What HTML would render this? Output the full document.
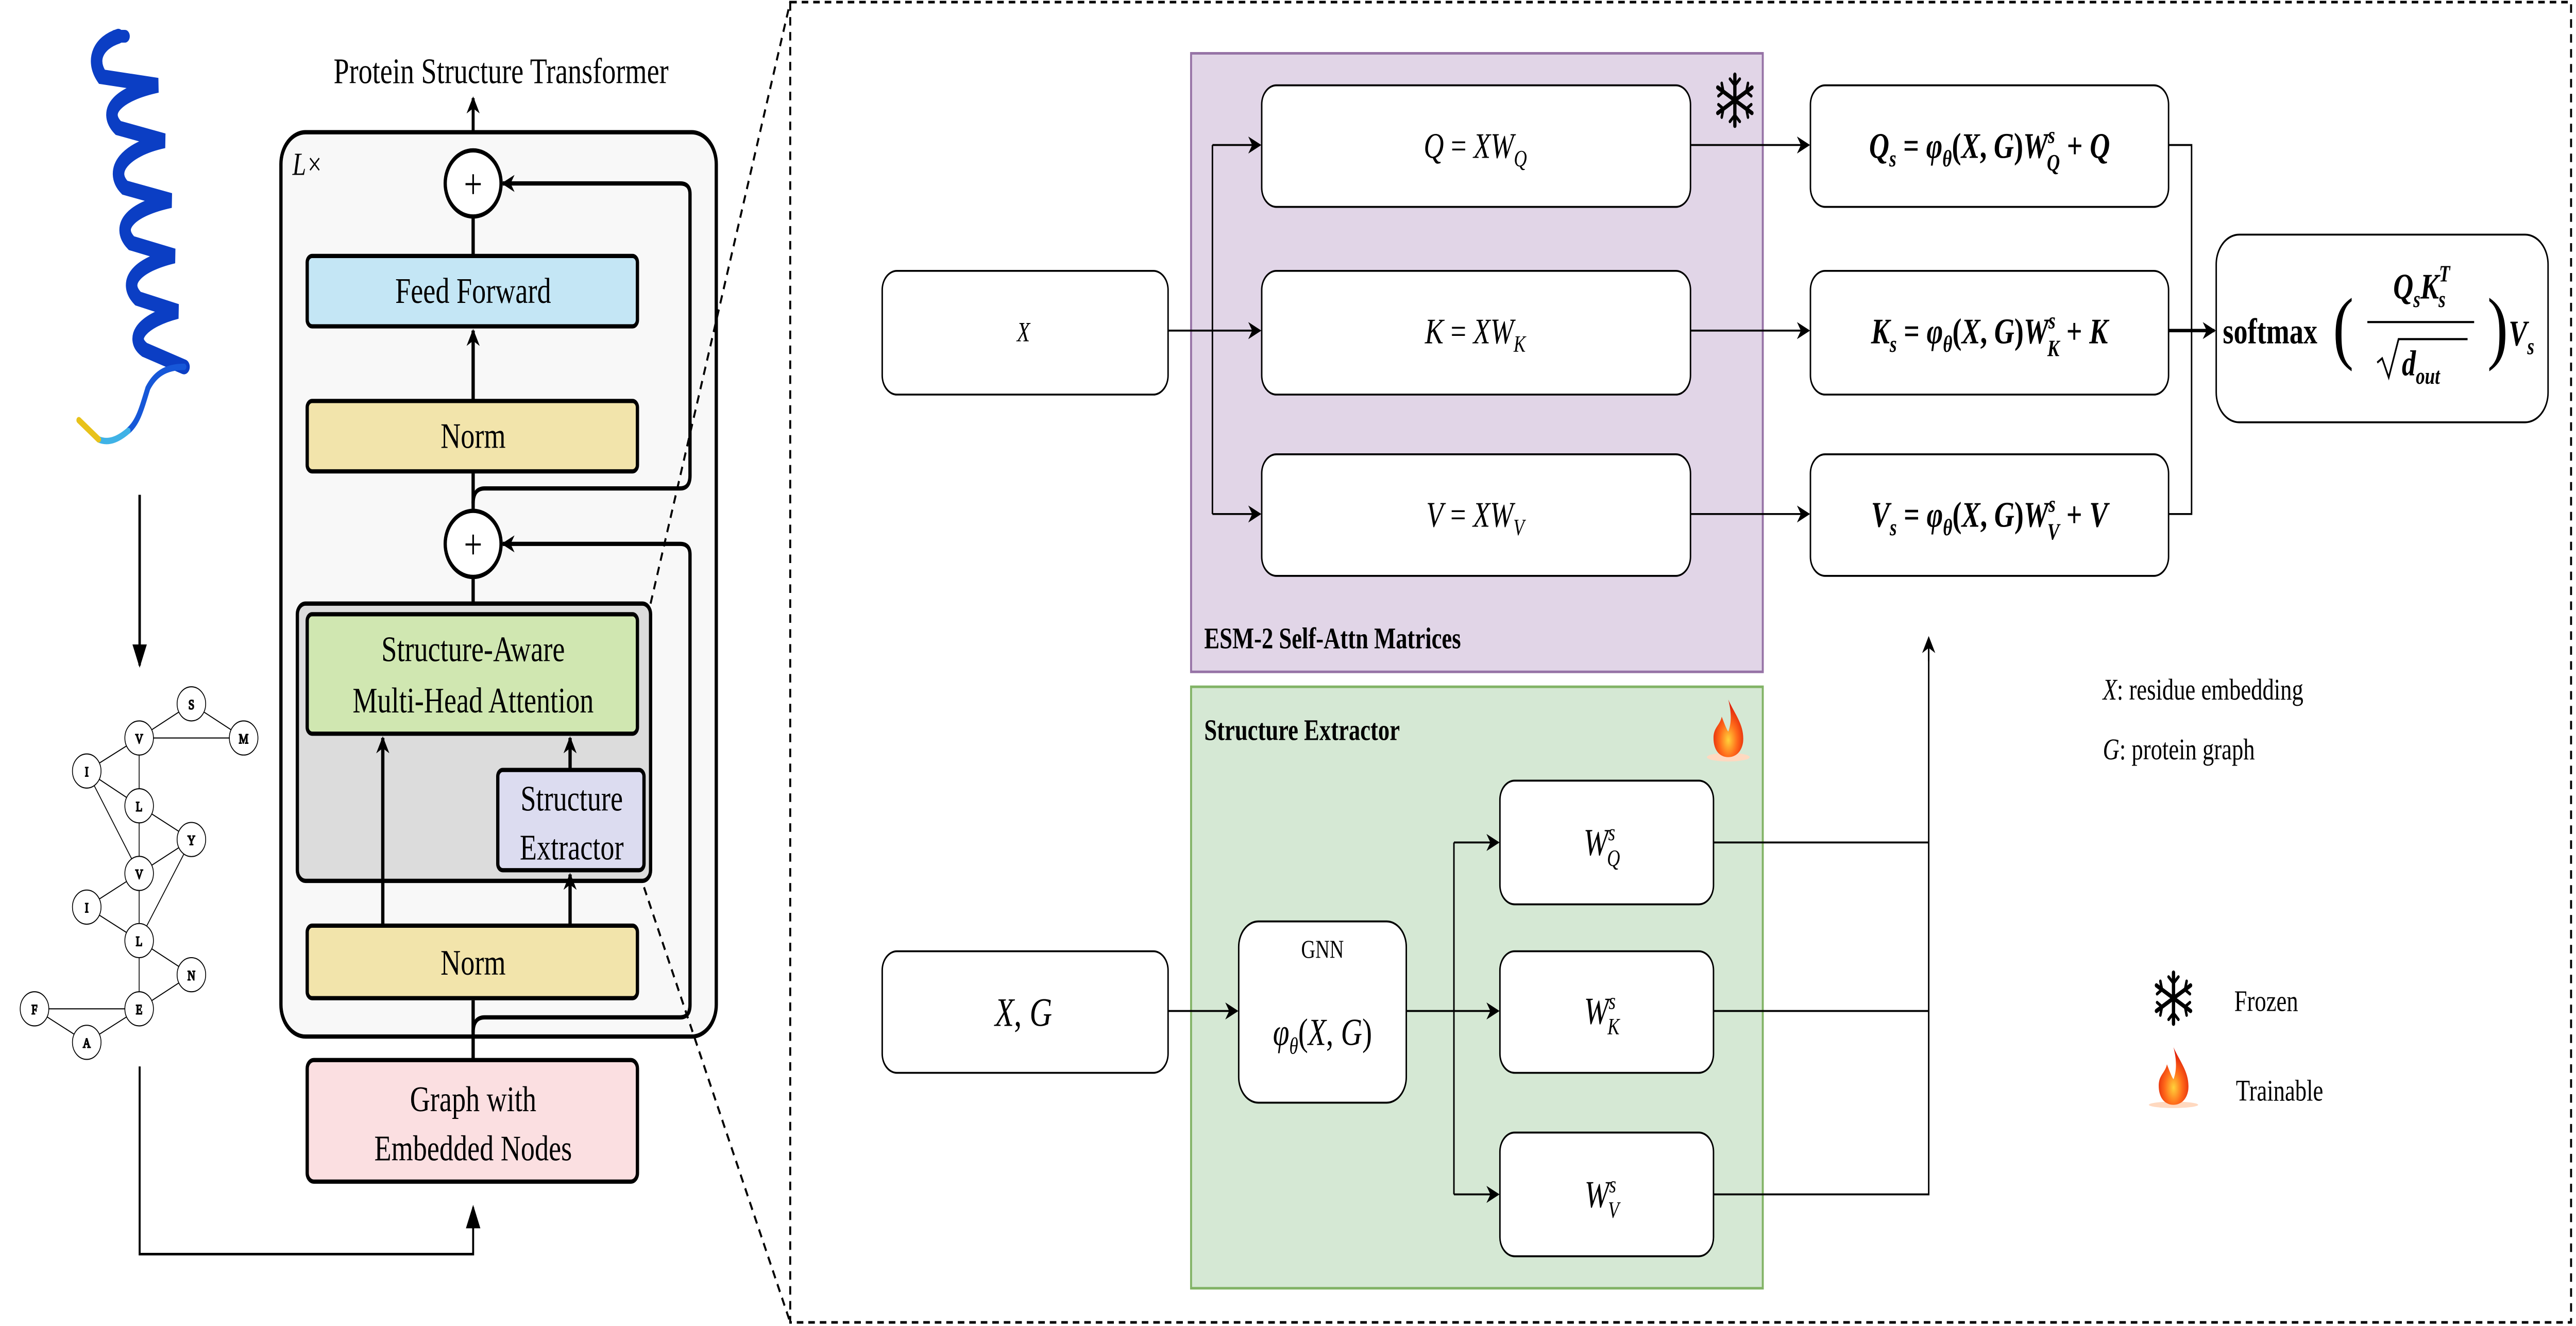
<!DOCTYPE html>
<html><head><meta charset="utf-8"><style>
html,body{margin:0;padding:0;background:#fff;width:100%;height:100%;overflow:hidden}
svg{display:block;width:100vw;height:100vh}
text{font-family:"Liberation Serif","DejaVu Serif",serif;fill:#000}
.m{font-style:italic}
</style></head><body>
<svg viewBox="0 0 1568 621.7" preserveAspectRatio="none" xmlns="http://www.w3.org/2000/svg">
<defs>
<marker id="a" viewBox="0 0 10 10" refX="9" refY="5" markerWidth="8" markerHeight="8" markerUnits="userSpaceOnUse" orient="auto"><path d="M0,0 L10,5 L0,10 L3,5 z" fill="#000"/></marker>
<marker id="b" viewBox="0 0 10 10" refX="9" refY="5" markerWidth="11" markerHeight="11" markerUnits="userSpaceOnUse" orient="auto"><path d="M0,1 L10,5 L0,9 z" fill="#000"/></marker>
<radialGradient id="fire" cx="50%" cy="70%" r="60%"><stop offset="0" stop-color="#ffd23a"/><stop offset="0.5" stop-color="#ff6a1a"/><stop offset="1" stop-color="#e0200a"/></radialGradient>
</defs>
<rect width="1568" height="621.7" fill="#fff"/>

<!-- helix -->
<g fill="none" stroke-linecap="round">
<path d="M72,17 C60,20 55,28 62,36 L96,40 C72,44 62,52 72,60 L100,66 C76,70 66,80 76,88 L104,94 C80,98 70,106 80,114 L106,120 C84,124 74,132 84,140 L108,146 C88,150 78,158 88,164 L112,172" stroke="#0b3ec4" stroke-width="7"/>
<path d="M76,17 L70,17" stroke="#0b3ec4" stroke-width="6"/>
<path d="M112,172 C100,172 94,176 90,182 C86,192 84,198 78,202" stroke="#1657d8" stroke-width="3"/>
<path d="M78,202 C72,206 66,208 60,206" stroke="#3fb2e6" stroke-width="3"/>
<path d="M60,206 L48,197" stroke="#e8c21a" stroke-width="3"/>
</g>
<line x1="85" y1="232" x2="85" y2="312" stroke="#000" stroke-width="1.5" marker-end="url(#b)"/>

<!-- graph -->
<g stroke="#000" stroke-width="0.5" fill="none">
<line x1="84.7" y1="346" x2="116.5" y2="330"/><line x1="116.5" y1="330" x2="148.3" y2="346"/><line x1="84.7" y1="346" x2="148.3" y2="346"/>
<line x1="52.8" y1="361.5" x2="84.7" y2="346"/><line x1="84.7" y1="346" x2="84.7" y2="377.8"/><line x1="52.8" y1="361.5" x2="84.7" y2="377.8"/>
<line x1="52.8" y1="361.5" x2="84.7" y2="409.5"/><line x1="84.7" y1="377.8" x2="116.5" y2="393.6"/><line x1="84.7" y1="377.8" x2="84.7" y2="409.5"/>
<line x1="116.5" y1="393.6" x2="84.7" y2="409.5"/><line x1="116.5" y1="393.6" x2="84.7" y2="441"/><line x1="84.7" y1="409.5" x2="52.8" y2="425.3"/>
<line x1="84.7" y1="409.5" x2="84.7" y2="441"/><line x1="52.8" y1="425.3" x2="84.7" y2="441"/><line x1="84.7" y1="441" x2="116.5" y2="457"/>
<line x1="84.7" y1="441" x2="84.7" y2="473"/><line x1="116.5" y1="457" x2="84.7" y2="473"/><line x1="21" y1="473" x2="84.7" y2="473"/>
<line x1="21" y1="473" x2="52.8" y2="488.7"/><line x1="52.8" y1="488.7" x2="84.7" y2="473"/>
</g>
<g stroke="#000" stroke-width="0.5" fill="#fff" font-size="6.5" text-anchor="middle">
<ellipse cx="116.5" cy="330" rx="8.7" ry="8"/><text x="116.5" y="332.5">S</text>
<ellipse cx="148.3" cy="346" rx="8.7" ry="8"/><text x="148.3" y="348.5">M</text>
<ellipse cx="84.7" cy="346" rx="8.7" ry="8"/><text x="84.7" y="348.5">V</text>
<ellipse cx="52.8" cy="361.5" rx="8.7" ry="8"/><text x="52.8" y="364">I</text>
<ellipse cx="84.7" cy="377.8" rx="8.7" ry="8"/><text x="84.7" y="380.3">L</text>
<ellipse cx="116.5" cy="393.6" rx="8.7" ry="8"/><text x="116.5" y="396.1">Y</text>
<ellipse cx="84.7" cy="409.5" rx="8.7" ry="8"/><text x="84.7" y="412">V</text>
<ellipse cx="52.8" cy="425.3" rx="8.7" ry="8"/><text x="52.8" y="427.8">I</text>
<ellipse cx="84.7" cy="441" rx="8.7" ry="8"/><text x="84.7" y="443.5">L</text>
<ellipse cx="116.5" cy="457" rx="8.7" ry="8"/><text x="116.5" y="459.5">N</text>
<ellipse cx="21" cy="473" rx="8.7" ry="8"/><text x="21" y="475.5">F</text>
<ellipse cx="84.7" cy="473" rx="8.7" ry="8"/><text x="84.7" y="475.5">E</text>
<ellipse cx="52.8" cy="488.7" rx="8.7" ry="8"/><text x="52.8" y="491.2">A</text>
</g>
<path d="M85,500 L85,588 L288,588 L288,566" fill="none" stroke="#000" stroke-width="1.2" marker-end="url(#b)"/>

<!-- transformer -->
<text x="305" y="39" font-size="17" text-anchor="middle">Protein Structure Transformer</text>
<line x1="288" y1="71" x2="288" y2="46" stroke="#000" stroke-width="1.8" marker-end="url(#a)"/>
<rect x="171" y="62" width="265" height="424" rx="15" fill="#f8f8f8" stroke="#000" stroke-width="2"/>
<text x="178" y="82" font-size="15" class="m">L×</text>
<g stroke="#000" stroke-width="2" fill="none">
<line x1="288" y1="120" x2="288" y2="101"/>
<line x1="288" y1="188" x2="288" y2="155" marker-end="url(#a)"/>
<line x1="288" y1="240" x2="288" y2="221"/>
<line x1="288" y1="288" x2="288" y2="270"/>
<path d="M288,236 Q288,229 295,229 L414,229 Q420,229 420,223 L420,91 Q420,86 414,86 L306,86" marker-end="url(#a)"/>
<path d="M288,484 Q288,477 295,477 L414,477 Q420,477 420,471 L420,260 Q420,255 414,255 L306,255" marker-end="url(#a)"/>
</g>
<rect x="181" y="283" width="215" height="130" rx="5" fill="#dcdcdc" stroke="#000" stroke-width="2"/>
<g stroke="#000" stroke-width="2" fill="none">
<line x1="288" y1="497" x2="288" y2="469"/>
<line x1="233" y1="434" x2="233" y2="346" marker-end="url(#a)"/>
<line x1="347" y1="434" x2="347" y2="410" marker-end="url(#a)"/>
<line x1="347" y1="361" x2="347" y2="346" marker-end="url(#a)"/>
</g>
<ellipse cx="288" cy="86" rx="17" ry="15.5" fill="#fff" stroke="#000" stroke-width="2"/>
<text x="288" y="93" font-size="20" text-anchor="middle">+</text>
<ellipse cx="288" cy="255" rx="17" ry="15.5" fill="#fff" stroke="#000" stroke-width="2"/>
<text x="288" y="262" font-size="20" text-anchor="middle">+</text>
<rect x="187" y="120" width="201" height="33" rx="3" fill="#c4e6f5" stroke="#000" stroke-width="2"/>
<text x="288" y="142" font-size="17" text-anchor="middle">Feed Forward</text>
<rect x="187" y="188" width="201" height="33" rx="3" fill="#f2e4ab" stroke="#000" stroke-width="2"/>
<text x="288" y="210" font-size="17" text-anchor="middle">Norm</text>
<rect x="187" y="288" width="201" height="56" rx="3" fill="#d0e7b1" stroke="#000" stroke-width="2"/>
<text x="288" y="310" font-size="17" text-anchor="middle">Structure-Aware</text>
<text x="288" y="334" font-size="17" text-anchor="middle">Multi-Head Attention</text>
<rect x="303" y="361" width="89" height="47" rx="3" fill="#dcdcf0" stroke="#000" stroke-width="2"/>
<text x="348" y="380" font-size="17" text-anchor="middle">Structure</text>
<text x="348" y="403" font-size="17" text-anchor="middle">Extractor</text>
<rect x="187" y="434" width="201" height="34" rx="3" fill="#f2e4ab" stroke="#000" stroke-width="2"/>
<text x="288" y="457" font-size="17" text-anchor="middle">Norm</text>
<rect x="187" y="497" width="201" height="57" rx="4" fill="#fbdfe1" stroke="#000" stroke-width="2"/>
<text x="288" y="521" font-size="17" text-anchor="middle">Graph with</text>
<text x="288" y="544" font-size="17" text-anchor="middle">Embedded Nodes</text>

<!-- dashed -->
<g stroke="#000" stroke-width="1.2" fill="none" stroke-dasharray="4,3">
<line x1="396" y1="283" x2="481" y2="1"/>
<line x1="392" y1="416" x2="481" y2="620"/>
<rect x="481" y="1" width="1084" height="619"/>
</g>

<!-- purple -->
<rect x="725" y="25" width="348" height="290" fill="#e1d5e7" stroke="#9673a6" stroke-width="1.2"/>
<text x="733" y="304" font-size="14" font-weight="bold">ESM-2 Self-Attn Matrices</text>
<rect x="725" y="322" width="348" height="282" fill="#d5e8d4" stroke="#82b366" stroke-width="1.2"/>
<text x="733" y="347" font-size="14" font-weight="bold">Structure Extractor</text>

<g stroke="#000" stroke-width="0.9" fill="none">
<path d="M711,155 L738,155 M738,68 L738,241"/>
<line x1="738" y1="68" x2="767" y2="68" marker-end="url(#a)"/>
<line x1="738" y1="155" x2="767" y2="155" marker-end="url(#a)"/>
<line x1="738" y1="241" x2="767" y2="241" marker-end="url(#a)"/>
<line x1="1029" y1="68" x2="1101" y2="68" marker-end="url(#a)"/>
<line x1="1029" y1="155" x2="1101" y2="155" marker-end="url(#a)"/>
<line x1="1029" y1="241" x2="1101" y2="241" marker-end="url(#a)"/>
<path d="M1320,68 L1334,68 L1334,241 L1320,241"/>
<line x1="1320" y1="155" x2="1348" y2="155" stroke-width="1.6" marker-end="url(#a)"/>
<line x1="711" y1="474" x2="753" y2="474" marker-end="url(#a)"/>
<path d="M856,474 L885,474 M885,395 L885,560"/>
<line x1="885" y1="395" x2="912" y2="395" marker-end="url(#a)"/>
<line x1="885" y1="474" x2="912" y2="474" marker-end="url(#a)"/>
<line x1="885" y1="560" x2="912" y2="560" marker-end="url(#a)"/>
<path d="M1043,395 L1174,395 M1043,474 L1174,474 M1043,560 L1174,560 L1174,300"/>
<line x1="1174" y1="310" x2="1174" y2="299" marker-end="url(#a)"/>
</g>

<g fill="#fff" stroke="#000" stroke-width="0.9">
<rect x="537" y="127" width="174" height="58" rx="9"/>
<rect x="768" y="40" width="261" height="57" rx="9"/>
<rect x="768" y="127" width="261" height="58" rx="9"/>
<rect x="768" y="213" width="261" height="57" rx="9"/>
<rect x="1102" y="40" width="218" height="57" rx="9"/>
<rect x="1102" y="127" width="218" height="58" rx="9"/>
<rect x="1102" y="213" width="218" height="57" rx="9"/>
<rect x="1349" y="110" width="202" height="88" rx="14"/>
<rect x="537" y="446" width="174" height="57" rx="9"/>
<rect x="754" y="432" width="102" height="85" rx="12"/>
<rect x="913" y="366" width="130" height="58" rx="9"/>
<rect x="913" y="446" width="130" height="57" rx="9"/>
<rect x="913" y="531" width="130" height="58" rx="9"/>
</g>

<g font-size="17" text-anchor="middle">
<text x="623" y="160" font-size="13" class="m">X</text>
<text x="898" y="74"><tspan class="m">Q</tspan> = <tspan class="m">XW</tspan><tspan class="m" font-size="11" dy="4">Q</tspan></text>
<text x="898" y="161"><tspan class="m">K</tspan> = <tspan class="m">XW</tspan><tspan class="m" font-size="11" dy="4">K</tspan></text>
<text x="898" y="247"><tspan class="m">V</tspan> = <tspan class="m">XW</tspan><tspan class="m" font-size="11" dy="4">V</tspan></text>
<text x="1211" y="74" font-weight="bold"><tspan class="m">Q</tspan><tspan class="m" font-size="11" dy="4">s</tspan><tspan dy="-4"> = </tspan><tspan class="m">φ</tspan><tspan class="m" font-size="11" dy="4">θ</tspan><tspan dy="-4">(</tspan><tspan class="m">X</tspan>, <tspan class="m">G</tspan>)<tspan class="m">W</tspan><tspan class="m" font-size="11" dy="-7">s</tspan><tspan class="m" font-size="11" dx="-5" dy="13">Q</tspan><tspan dy="-6"> + </tspan><tspan class="m">Q</tspan></text>
<text x="1211" y="161" font-weight="bold"><tspan class="m">K</tspan><tspan class="m" font-size="11" dy="4">s</tspan><tspan dy="-4"> = </tspan><tspan class="m">φ</tspan><tspan class="m" font-size="11" dy="4">θ</tspan><tspan dy="-4">(</tspan><tspan class="m">X</tspan>, <tspan class="m">G</tspan>)<tspan class="m">W</tspan><tspan class="m" font-size="11" dy="-7">s</tspan><tspan class="m" font-size="11" dx="-5" dy="13">K</tspan><tspan dy="-6"> + </tspan><tspan class="m">K</tspan></text>
<text x="1211" y="247" font-weight="bold"><tspan class="m">V</tspan><tspan class="m" font-size="11" dy="4">s</tspan><tspan dy="-4"> = </tspan><tspan class="m">φ</tspan><tspan class="m" font-size="11" dy="4">θ</tspan><tspan dy="-4">(</tspan><tspan class="m">X</tspan>, <tspan class="m">G</tspan>)<tspan class="m">W</tspan><tspan class="m" font-size="11" dy="-7">s</tspan><tspan class="m" font-size="11" dx="-5" dy="13">V</tspan><tspan dy="-6"> + </tspan><tspan class="m">V</tspan></text>
<text x="623" y="481" font-size="19"><tspan class="m">X</tspan>, <tspan class="m">G</tspan></text>
<text x="805" y="449" font-size="12">GNN</text>
<text x="805" y="490" font-size="18"><tspan class="m">φ</tspan><tspan class="m" font-size="11" dy="4">θ</tspan><tspan dy="-4">(</tspan><tspan class="m">X</tspan>, <tspan class="m">G</tspan>)</text>
<text x="975" y="401" font-size="18"><tspan class="m">W</tspan><tspan class="m" font-size="11" dy="-7">s</tspan><tspan class="m" font-size="11" dx="-5" dy="12">Q</tspan></text>
<text x="975" y="480" font-size="18"><tspan class="m">W</tspan><tspan class="m" font-size="11" dy="-7">s</tspan><tspan class="m" font-size="11" dx="-5" dy="12">K</tspan></text>
<text x="975" y="566" font-size="18"><tspan class="m">W</tspan><tspan class="m" font-size="11" dy="-7">s</tspan><tspan class="m" font-size="11" dx="-5" dy="12">V</tspan></text>
</g>
<!-- softmax -->
<g font-size="17" font-weight="bold">
<text x="1353" y="161">softmax</text>
<text x="1420" y="166" font-size="38" font-weight="normal">(</text>
<text x="1514" y="166" font-size="38" font-weight="normal">)</text>
<text x="1474" y="140" text-anchor="middle"><tspan class="m">Q</tspan><tspan class="m" font-size="11" dy="4">s</tspan><tspan class="m" dy="-4">K</tspan><tspan class="m" font-size="11" dy="-8">T</tspan><tspan class="m" font-size="11" dx="-7" dy="12">s</tspan></text>
<line x1="1441" y1="151" x2="1506" y2="151" stroke="#000" stroke-width="1"/>
<path d="M1447,170 L1450,168 L1454,177 L1460,159 L1502,159" fill="none" stroke="#000" stroke-width="1"/>
<text x="1462" y="176"><tspan class="m">d</tspan><tspan class="m" font-size="11" dy="4">out</tspan></text>
<text x="1527" y="162"><tspan class="m">V</tspan><tspan class="m" font-size="11" dy="4">s</tspan></text>
</g>

<!-- legend -->
<g font-size="14">
<text x="1280" y="328"><tspan class="m">X</tspan>: residue embedding</text>
<text x="1280" y="356"><tspan class="m">G</tspan>: protein graph</text>
<text x="1360" y="474">Frozen</text>
<text x="1361" y="516">Trainable</text>
</g>

<!-- snowflakes -->
<g stroke="#000" stroke-width="2" stroke-linecap="round">
<g transform="translate(1056,47)">
<line x1="0" y1="-12" x2="0" y2="12"/><line x1="-10.4" y1="-6" x2="10.4" y2="6"/><line x1="-10.4" y1="6" x2="10.4" y2="-6"/>
<path d="M-3,-10 L0,-7 L3,-10 M-3,10 L0,7 L3,10 M-10,-2 L-7,-4 L-8,-8 M10,2 L7,4 L8,8 M-8,8 L-7,4 L-10,2 M8,-8 L7,-4 L10,-2" fill="none" stroke-width="1.5"/>
</g>
<g transform="translate(1323,468)">
<line x1="0" y1="-12" x2="0" y2="12"/><line x1="-10.4" y1="-6" x2="10.4" y2="6"/><line x1="-10.4" y1="6" x2="10.4" y2="-6"/>
<path d="M-3,-10 L0,-7 L3,-10 M-3,10 L0,7 L3,10 M-10,-2 L-7,-4 L-8,-8 M10,2 L7,4 L8,8 M-8,8 L-7,4 L-10,2 M8,-8 L7,-4 L10,-2" fill="none" stroke-width="1.5"/>
</g>
</g>
<!-- fires -->
<g transform="translate(1052,343)">
<ellipse cx="0" cy="12" rx="13" ry="2" fill="#ffd9c0"/>
<path d="M0,-15 C4,-8 10,-3 9,5 C8,10 4,12 0,12 C-5,12 -9,9 -9,3 C-9,-2 -5,-3 -4,-7 C-2,-3 -1,-1 0,0 C2,-4 2,-9 0,-15 z" fill="url(#fire)"/>
</g>
<g transform="translate(1323,506)">
<ellipse cx="0" cy="12" rx="15" ry="1.5" fill="#ffd9c0"/>
<path d="M0,-15 C4,-8 10,-3 9,5 C8,10 4,12 0,12 C-5,12 -9,9 -9,3 C-9,-2 -5,-3 -4,-7 C-2,-3 -1,-1 0,0 C2,-4 2,-9 0,-15 z" fill="url(#fire)"/>
</g>
</svg>
</body></html>
